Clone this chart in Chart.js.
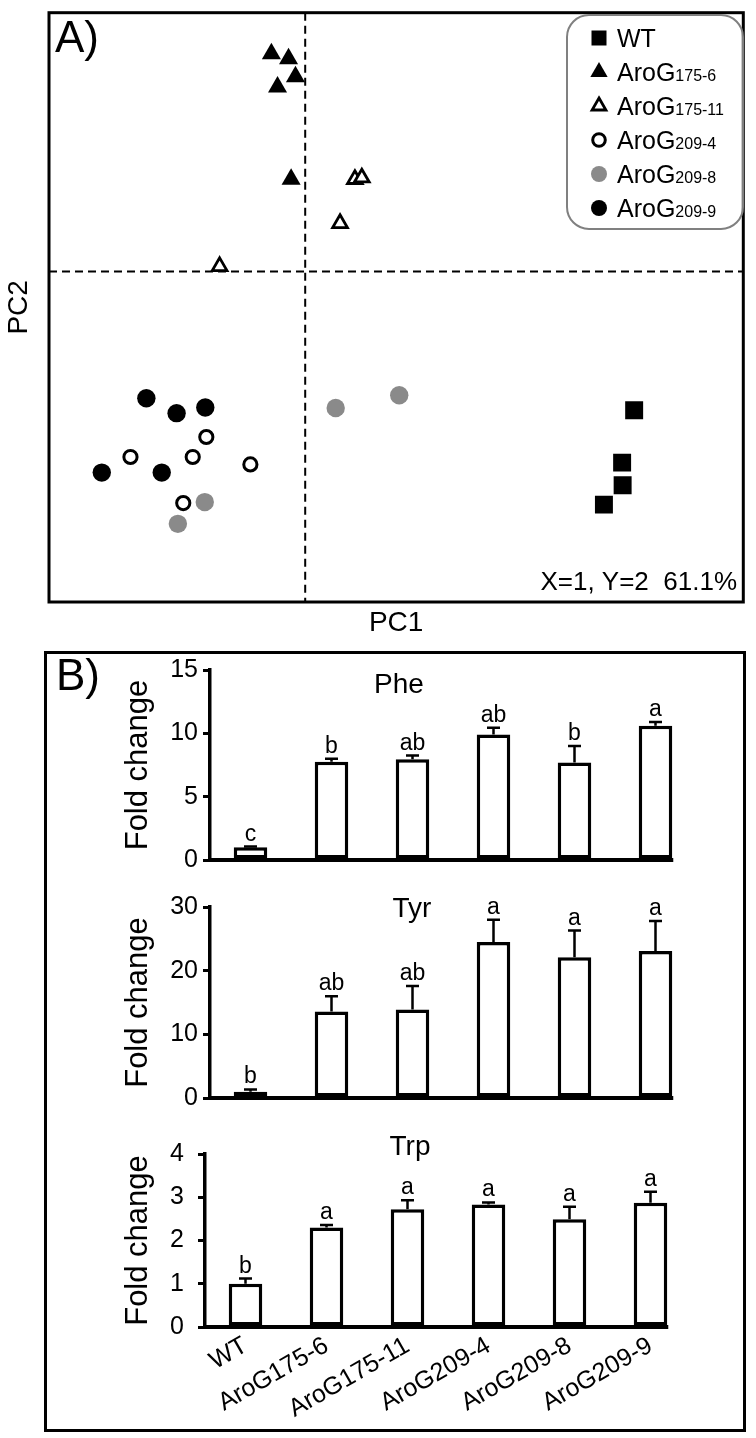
<!DOCTYPE html>
<html>
<head>
<meta charset="utf-8">
<script src="https://cdn.jsdelivr.net/npm/chart.js@4.4.0/dist/chart.umd.min.js"></script>
<style>
  html, body { margin: 0; padding: 0; background: #fff; }
  body { width: 756px; height: 1438px; position: relative; overflow: hidden; }
  canvas { position: absolute; left: 0; }
  #boxB { position: absolute; left: 44px; top: 651px; width: 696px; height: 775px; border: 3px solid #000; }
</style>
</head>
<body>
<div id="boxB"></div>
<canvas id="pca" style="top:0" width="756" height="645"></canvas>
<canvas id="phe" style="top:645px" width="756" height="235"></canvas>
<canvas id="tyr" style="top:880px" width="756" height="240"></canvas>
<canvas id="trp" style="top:1120px" width="756" height="318"></canvas>
<script>
const F = '"Liberation Sans", Arial, sans-serif';
Chart.defaults.font.family = F;
Chart.defaults.color = "#000";

// A) PCA scores (PC1, PC2), one pair of arrays per line
const wtPC1 = [12.84, 12.37, 12.39, 11.66];
const wtPC2 = [-5.42, -7.46, -8.34, -9.1];
const aro1756PC1 = [-1.32, -0.65, -0.38, -1.08, -0.55];
const aro1756PC2 = [8.5, 8.3, 7.6, 7.2, 3.6];
const aro17511PC1 = [1.94, 2.21, 1.36, -3.34];
const aro17511PC2 = [3.6, 3.66, 1.88, 0.2];
const aro2094PC1 = [-3.86, -6.82, -4.39, -2.14, -4.76];
const aro2094PC2 = [-6.46, -7.24, -7.24, -7.53, -9.04];
const aro2098PC1 = [1.19, 3.67, -3.92, -4.97];
const aro2098PC2 = [-5.33, -4.83, -9.0, -9.85];
const aro2099PC1 = [-6.2, -5.02, -3.9, -7.94, -5.6];
const aro2099PC2 = [-4.95, -5.53, -5.31, -7.85, -7.85];

// B) fold change, error (upper only) and significance letters
const lines = ["WT", "AroG175-6", "AroG175-11", "AroG209-4", "AroG209-8", "AroG209-9"];
const phe = [1.0, 7.75, 7.95, 9.9, 7.7, 10.6];
const pheErr = [0.06, 0.25, 0.3, 0.55, 1.3, 0.3];
const pheLetters = ["c", "b", "ab", "ab", "b", "a"];
const tyr = [1.0, 13.6, 13.9, 24.5, 22.1, 23.1];
const tyrErr = [0.35, 2.4, 3.7, 3.5, 4.2, 4.7];
const tyrLetters = ["b", "ab", "ab", "a", "a", "a"];
const trp = [1.0, 2.3, 2.72, 2.83, 2.49, 2.87];
const trpErr = [0.12, 0.06, 0.21, 0.05, 0.29, 0.26];
const trpLetters = ["b", "a", "a", "a", "a", "a"];

const pts = (xs, ys) => xs.map((v, i) => ({ x: v, y: ys[i] }));

// draws one legend symbol
function symbol(ctx, ds, x, y) {
  ctx.save();
  ctx.fillStyle = ds.backgroundColor;
  ctx.strokeStyle = ds.borderColor;
  ctx.lineWidth = ds.borderWidth;
  ctx.beginPath();
  if (ds.pointStyle === "rect") {
    ctx.rect(x - 7.5, y - 7.5, 15, 15);
  } else if (ds.pointStyle === "triangle") {
    const r = ds.borderWidth ? 8 : 10;
    ctx.moveTo(x, y - r);
    ctx.lineTo(x + r * 0.866, y + r / 2);
    ctx.lineTo(x - r * 0.866, y + r / 2);
    ctx.closePath();
  } else {
    ctx.arc(x, y, ds.borderWidth ? 6.3 : 8, 0, Math.PI * 2);
  }
  ctx.fill();
  if (ds.borderWidth) ctx.stroke();
  ctx.restore();
}

const pcaDecor = {
  id: "pcaDecor",
  beforeDatasetsDraw(chart) {
    const { ctx, chartArea: a, scales: { x, y } } = chart;
    const x0 = x.getPixelForValue(0), y0 = y.getPixelForValue(0);
    ctx.save();
    ctx.strokeStyle = "#000";
    ctx.lineWidth = 2;
    ctx.setLineDash([8, 5]);
    ctx.beginPath();
    ctx.moveTo(x0, a.top); ctx.lineTo(x0, a.bottom);
    ctx.moveTo(a.left, y0); ctx.lineTo(a.right, y0);
    ctx.stroke();
    ctx.restore();
  },
  afterDraw(chart) {
    const { ctx, chartArea: a } = chart;
    ctx.save();
    ctx.strokeStyle = "#000";
    ctx.lineWidth = 3;
    ctx.strokeRect(a.left, a.top, a.right - a.left, a.bottom - a.top);
    ctx.fillStyle = "#000";
    ctx.font = "44px " + F;
    ctx.fillText("A)", 55, 52);
    ctx.font = "26px " + F;
    ctx.textAlign = "right";
    ctx.fillText("X=1, Y=2  61.1%", 737, 590);

    // legend box
    const L = 567, T = 15, R = 743, B = 229, rad = 22;
    ctx.strokeStyle = "#808080";
    ctx.lineWidth = 2;
    ctx.beginPath();
    ctx.moveTo(L + rad, T);
    ctx.arcTo(R, T, R, B, rad);
    ctx.arcTo(R, B, L, B, rad);
    ctx.arcTo(L, B, L, T, rad);
    ctx.arcTo(L, T, R, T, rad);
    ctx.closePath();
    ctx.stroke();
    ctx.textAlign = "left";
    chart.data.datasets.forEach((ds, i) => {
      const cy = 38 + i * 34;
      symbol(ctx, ds, 599, cy);
      const m = ds.label.match(/^(\D+)(.*)$/);
      ctx.fillStyle = "#000";
      ctx.font = "25px " + F;
      ctx.fillText(m[1], 617, cy + 9);
      const w = ctx.measureText(m[1]).width;
      ctx.font = "16px " + F;
      ctx.fillText(m[2], 617 + w, cy + 9);
    });
    ctx.restore();
  }
};

new Chart(document.getElementById("pca"), {
  type: "scatter",
  data: {
    datasets: [
      { label: "WT", data: pts(wtPC1, wtPC2), pointStyle: "rect", pointRadius: 12.7,
        backgroundColor: "#000", borderColor: "#000", borderWidth: 0 },
      { label: "AroG175-6", data: pts(aro1756PC1, aro1756PC2), pointStyle: "triangle", pointRadius: 11,
        backgroundColor: "#000", borderColor: "#000", borderWidth: 0 },
      { label: "AroG175-11", data: pts(aro17511PC1, aro17511PC2), pointStyle: "triangle", pointRadius: 8.5,
        backgroundColor: "#fff", borderColor: "#000", borderWidth: 2.8 },
      { label: "AroG209-4", data: pts(aro2094PC1, aro2094PC2), pointStyle: "circle", pointRadius: 6.6,
        backgroundColor: "#fff", borderColor: "#000", borderWidth: 3 },
      { label: "AroG209-8", data: pts(aro2098PC1, aro2098PC2), pointStyle: "circle", pointRadius: 9.2,
        backgroundColor: "#8a8a8a", borderColor: "#8a8a8a", borderWidth: 0 },
      { label: "AroG209-9", data: pts(aro2099PC1, aro2099PC2), pointStyle: "circle", pointRadius: 9.2,
        backgroundColor: "#000", borderColor: "#000", borderWidth: 0 }
    ]
  },
  options: {
    responsive: false,
    animation: false,
    layout: { padding: { left: 0, top: 8, right: 7, bottom: 0 } },
    plugins: { legend: { display: false }, tooltip: { enabled: false } },
    scales: {
      x: {
        type: "linear", min: -10, max: 17.1,
        ticks: { display: false }, grid: { display: false }, border: { display: false },
        title: { display: true, text: "PC1", font: { size: 28 }, padding: { top: 0, bottom: 5 } },
        afterFit(s) { s.height = 43; }
      },
      y: {
        type: "linear", min: -12.9, max: 10.1,
        ticks: { display: false }, grid: { display: false }, border: { display: false },
        title: { display: true, text: "PC2", font: { size: 28 }, padding: { top: 2, bottom: 0 } },
        afterFit(s) { s.width = 49; }
      }
    }
  },
  plugins: [pcaDecor]
});

// per-panel extras for the bar charts
const extras = {
  phe: { err: pheErr, letters: pheLetters, name: "Phe", nameX: 399, nameY: 48, tag: true },
  tyr: { err: tyrErr, letters: tyrLetters, name: "Tyr", nameX: 412, nameY: 37 },
  trp: { err: trpErr, letters: trpLetters, name: "Trp", nameX: 410, nameY: 35 }
};

const barDecor = {
  id: "barDecor",
  afterDatasetsDraw(chart) {
    const o = extras[chart.canvas.id];
    const { ctx, chartArea: a, scales: { y } } = chart;
    const bars = chart.getDatasetMeta(0).data;
    const vals = chart.data.datasets[0].data;
    const y0 = y.getPixelForValue(0);
    const last = bars[bars.length - 1];
    ctx.save();
    ctx.strokeStyle = "#000";
    ctx.fillStyle = "#000";
    ctx.lineWidth = 4;
    ctx.beginPath();
    ctx.moveTo(a.left - 1.5, y0);
    ctx.lineTo(last.x + last.width / 2 + 1, y0);
    ctx.stroke();

    ctx.lineWidth = 2.5;
    ctx.font = "23px " + F;
    ctx.textAlign = "center";
    bars.forEach((b, i) => {
      const top = y.getPixelForValue(vals[i] + o.err[i]);
      const base = y.getPixelForValue(vals[i]);
      ctx.beginPath();
      ctx.moveTo(b.x, base); ctx.lineTo(b.x, top);
      ctx.moveTo(b.x - 6.5, top); ctx.lineTo(b.x + 6.5, top);
      ctx.stroke();
      ctx.fillText(o.letters[i], b.x, top - 6);
    });
    ctx.font = "28px " + F;
    ctx.fillText(o.name, o.nameX, o.nameY);
    if (o.tag) {
      ctx.textAlign = "left";
      ctx.font = "44px " + F;
      ctx.fillText("B)", 56, 45);
    }
    ctx.restore();
  }
};

function barChart(id, vals, max, step, g) {
  new Chart(document.getElementById(id), {
    type: "bar",
    data: {
      labels: lines,
      datasets: [{
        data: vals, backgroundColor: "#fff", borderColor: "#000", borderWidth: 3.5,
        borderSkipped: false, categoryPercentage: 1, barPercentage: 0.414
      }]
    },
    options: {
      responsive: false,
      animation: false,
      layout: { padding: { left: g.left, right: g.right, top: g.top, bottom: g.bottom } },
      plugins: { legend: { display: false }, tooltip: { enabled: false } },
      scales: {
        x: {
          display: g.showX,
          grid: { display: false, drawTicks: false },
          border: { display: false },
          ticks: { font: { size: 25 }, minRotation: 30, maxRotation: 30, padding: 4, autoSkip: false },
          afterFit(s) { s.height = g.xh; }
        },
        y: {
          min: 0, max: max,
          ticks: { stepSize: step, font: { size: 25 }, padding: g.tickPad },
          grid: { drawOnChartArea: false, tickLength: 7, color: "#000", lineWidth: 3 },
          border: { color: "#000", width: 3.5 },
          title: { display: true, text: "Fold change", font: { size: 31 }, padding: { top: 5, bottom: 0 } },
          afterFit(s) { s.width = g.yw; }
        }
      }
    },
    plugins: [barDecor]
  });
}

barChart("phe", phe, 15, 5, { left: 115, yw: 95, right: 60, top: 25, bottom: 20, showX: false, xh: 0, tickPad: 5 });
barChart("tyr", tyr, 30, 10, { left: 115, yw: 95, right: 60, top: 27, bottom: 22, showX: false, xh: 0, tickPad: 5 });
barChart("trp", trp, 4, 1, { left: 115, yw: 90, right: 65, top: 34, bottom: 0, showX: true, xh: 111, tickPad: 14 });
</script>
</body>
</html>
